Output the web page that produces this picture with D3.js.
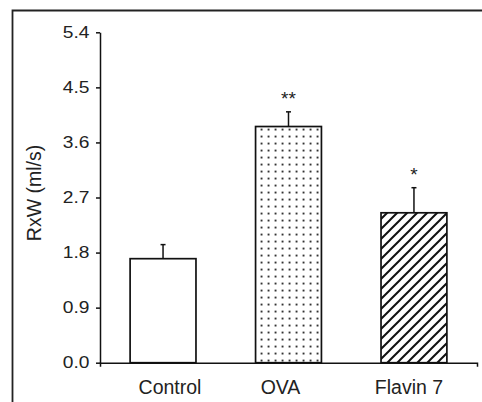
<!DOCTYPE html>
<html>
<head>
<meta charset="utf-8">
<script src="https://cdn.jsdelivr.net/npm/d3@7"></script>
<style>
  html, body { margin: 0; padding: 0; background: #fff; }
  svg { display: block; font-family: "Liberation Sans", Arial, sans-serif; }
</style>
</head>
<body>
<svg id="chart" width="482" height="402"></svg>
<script>
// ---- data ----
const categories = ["Control", "OVA", "Flavin 7"];
const means = [1.7, 3.86, 2.45];
const errors = [0.23, 0.24, 0.41];
const stars = ["", "**", "*"];
const fills = ["none", "dots", "hatch"];
const yTicks = [0.0, 0.9, 1.8, 2.7, 3.6, 4.5, 5.4];
const yLabel = "RxW (ml/s)";

// ---- layout ----
const labelShift = [7, -8, -5];
const svg = d3.select("#chart");
const W = 482, H = 402;

const defs = svg.append("defs");
const dots = defs.append("pattern").attr("id", "dots")
  .attr("patternUnits", "userSpaceOnUse").attr("width", 7).attr("height", 7)
  .attr("x", 258).attr("y", 0);
dots.append("rect").attr("width", 7).attr("height", 7).attr("fill", "#fff");
dots.append("rect").attr("x", 2.6).attr("y", 2.6).attr("width", 1.9).attr("height", 1.9).attr("fill", "#333");

const hatch = defs.append("pattern").attr("id", "hatch")
  .attr("patternUnits", "userSpaceOnUse").attr("width", 10).attr("height", 10);
hatch.append("rect").attr("width", 10).attr("height", 10).attr("fill", "#fff");
hatch.append("path").attr("d", "M-1,1 l2,-2 M0,10 l10,-10 M9,11 l2,-2")
  .attr("stroke", "#111").attr("stroke-width", 2);

// outer frame
svg.append("path").attr("d", `M12.5,${H + 5} V10.5 H${W + 5}`)
  .attr("fill", "none").attr("stroke", "#222").attr("stroke-width", 1.8);

const y = d3.scaleLinear().domain([0, 5.4]).range([362.7, 32.3]);
const x = d3.scaleBand().domain(categories).range([100, 477])
  .paddingInner(0.475).paddingOuter(0.24);

// bars
svg.selectAll("rect.bar").data(categories).join("rect").attr("class", "bar")
  .attr("x", d => x(d))
  .attr("y", (d, i) => y(means[i]))
  .attr("width", x.bandwidth())
  .attr("height", (d, i) => y(0) - y(means[i]))
  .attr("fill", (d, i) => fills[i] === "none" ? "#fff" : `url(#${fills[i]})`)
  .attr("stroke", "#111").attr("stroke-width", 1.7);

// error bars (upper only)
const eb = svg.selectAll("g.err").data(categories).join("g").attr("class", "err");
eb.append("line")
  .attr("x1", d => x(d) + x.bandwidth() / 2).attr("x2", d => x(d) + x.bandwidth() / 2)
  .attr("y1", (d, i) => y(means[i])).attr("y2", (d, i) => y(means[i] + errors[i]))
  .attr("stroke", "#111").attr("stroke-width", 1.5);
eb.append("line")
  .attr("x1", d => x(d) + x.bandwidth() / 2 - 2.5).attr("x2", d => x(d) + x.bandwidth() / 2 + 2.5)
  .attr("y1", (d, i) => y(means[i] + errors[i])).attr("y2", (d, i) => y(means[i] + errors[i]))
  .attr("stroke", "#111").attr("stroke-width", 1.5);

// significance stars
svg.selectAll("text.star").data(categories).join("text").attr("class", "star")
  .attr("x", d => x(d) + x.bandwidth() / 2)
  .attr("y", (d, i) => y(means[i] + errors[i]) - 7)
  .attr("text-anchor", "middle").attr("font-size", 19).attr("fill", "#222")
  .text((d, i) => stars[i]);

// y axis
const yAxis = svg.append("g").attr("transform", "translate(100,0)")
  .call(d3.axisLeft(y).tickValues(yTicks).tickSize(4).tickSizeOuter(0).tickFormat(""));
yAxis.selectAll("path, line").attr("stroke", "#111").attr("stroke-width", 1.5);
svg.selectAll("text.ytick").data(yTicks).join("text").attr("class", "ytick")
  .attr("transform", d => `translate(89.5,${y(d)}) scale(1.2,1)`)
  .attr("text-anchor", "end").attr("dy", "0.36em")
  .attr("font-size", 16).attr("fill", "#222")
  .text(d => d3.format(".1f")(d));

// x axis
const xAxis = svg.append("g").attr("transform", `translate(0,${y(0)})`)
  .call(d3.axisBottom(x).tickValues([]).tickSizeOuter(4));
xAxis.selectAll("path").attr("stroke", "#111").attr("stroke-width", 1.5);
svg.selectAll("text.xcat").data(categories).join("text").attr("class", "xcat")
  .attr("x", (d, i) => x(d) + x.bandwidth() / 2 + labelShift[i])
  .attr("y", 394)
  .attr("text-anchor", "middle").attr("font-size", 19.5).attr("fill", "#222")
  .text(d => d);

// y label
svg.append("text").attr("transform", "translate(41,193) rotate(-90)")
  .attr("text-anchor", "middle").attr("font-size", 19.5).attr("fill", "#222")
  .text(yLabel);
</script>
</body>
</html>
